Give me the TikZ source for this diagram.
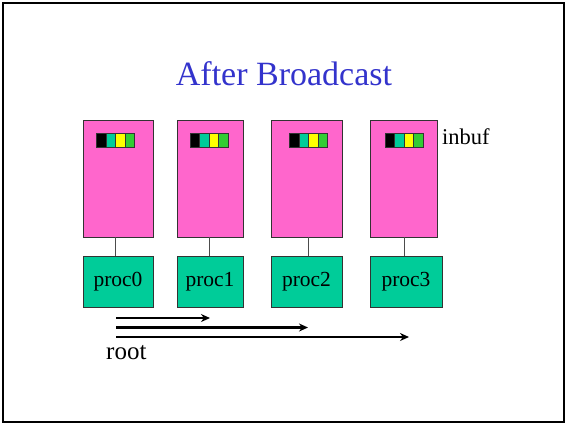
\documentclass[tikz,border=0pt]{standalone}
\usepackage{fontspec}
\setmainfont{Liberation Serif}
\usetikzlibrary{arrows.meta}
\definecolor{bufpink}{HTML}{FF66CC}
\definecolor{proc}{HTML}{00CC99}
\definecolor{cellteal}{HTML}{00CC99}
\definecolor{cellyellow}{HTML}{FFFF00}
\definecolor{cellgreen}{HTML}{33CC33}
\definecolor{titleblue}{HTML}{3333CC}
\begin{document}
\begin{tikzpicture}[x=1pt,y=-1pt,
  membox/.style={draw=black!80,line width=0.8pt,fill=bufpink,minimum height=117pt,inner sep=0pt},
  procbox/.style={draw=black!80,line width=0.8pt,fill=proc,minimum height=51pt,inner sep=0pt,
    font=\fontsize{21.5}{24}\selectfont},
  cell/.style={draw=black!80,line width=0.6pt,minimum width=9.5pt,minimum height=14pt,inner sep=0pt},
  link/.style={draw=black!70,line width=0.8pt},
  bcast/.style={line width=2.3pt,-{Stealth[length=9pt,width=8pt]}}]
\useasboundingbox (0,0) rectangle (567,426);
% slide frame
\draw[line width=2pt] (3,3) rectangle (564,422);
% title
\node[anchor=base,text=titleblue,font=\fontsize{34}{38}\selectfont,inner sep=0pt] (title) at (284,85) {After Broadcast};
% column positions (cell centres and links)
\coordinate (c0) at (115.5,0);
\coordinate (c1) at (209,0);
\coordinate (c2) at (308.5,0);
\coordinate (c3) at (404,0);
% buffer boxes
\node[membox,minimum width=70pt] (b0) at (118,178.5) {};
\node[membox,minimum width=66pt] (b1) at (210,178.5) {};
\node[membox,minimum width=71pt] (b2) at (306.5,178.5) {};
\node[membox,minimum width=67pt] (b3) at (403.5,178.5) {};
% process boxes
\node[procbox,minimum width=70pt] (p0) at (118,282) {proc0};
\node[procbox,minimum width=66pt] (p1) at (210,282) {proc1};
\node[procbox,minimum width=71pt] (p2) at (306.5,282) {proc2};
\node[procbox,minimum width=72pt] (p3) at (406,282) {proc3};
% links between buffers and processes
\foreach \i in {0,1,2,3}{
  \draw[link] (b\i.south -| c\i) -- (p\i.north -| c\i);
}
% broadcast data: four cells in every buffer
\foreach \i in {0,1,2,3}{
  \node[cell,fill=black]      (k\i a) at ([xshift=-14.25pt]c\i |- 0,140) {};
  \node[cell,fill=cellteal]   (k\i b) at ([xshift=-4.75pt]c\i |- 0,140) {};
  \node[cell,fill=cellyellow] (k\i c) at ([xshift=4.75pt]c\i |- 0,140) {};
  \node[cell,fill=cellgreen]  (k\i d) at ([xshift=14.25pt]c\i |- 0,140) {};
}
\node[anchor=west,inner sep=0pt,font=\fontsize{22.5}{25}\selectfont] (inbuf) at (442,137) {inbuf};
% broadcast arrows from the root
\coordinate (s1) at (116,318);
\coordinate (s2) at (116,327.5);
\coordinate (s3) at (116,337);
\coordinate (e1) at (210,318);
\coordinate (e2) at (308,327.5);
\coordinate (e3) at (409,337);
\draw[bcast] (s1) -- (e1);
\draw[bcast] (s2) -- (e2);
\draw[bcast] (s3) -- (e3);
\node[anchor=base west,inner sep=0pt,font=\fontsize{25}{28}\selectfont] (root) at (106,359) {root};
\end{tikzpicture}
\end{document}
